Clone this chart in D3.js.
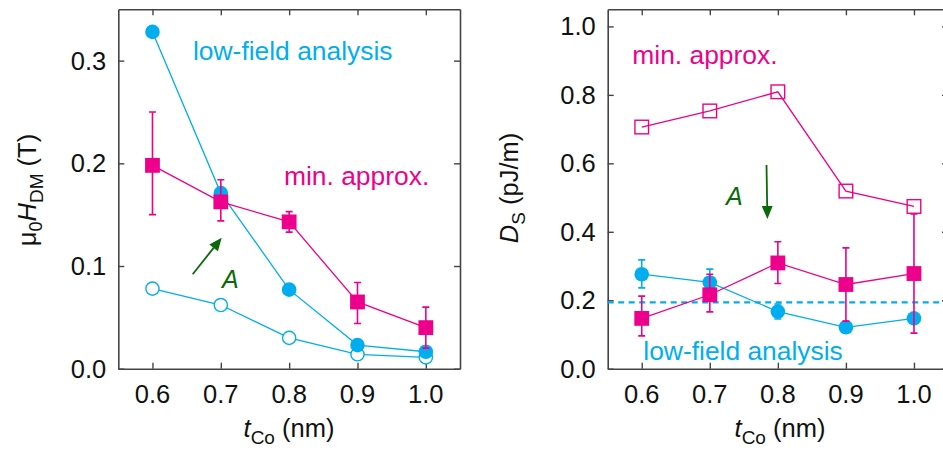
<!DOCTYPE html>
<html>
<head>
<meta charset="utf-8">
<script src="https://cdn.jsdelivr.net/npm/d3@7"></script>
<style>
  html, body { margin: 0; padding: 0; background: #fff; }
  svg { display: block; font-family: "Liberation Sans", Arial, sans-serif; }
</style>
</head>
<body>
<svg id="fig" width="943" height="452"></svg>
<script>
// Co thickness (nm)
const tCo = [0.6, 0.7, 0.8, 0.9, 1.0];
const xTicks = [0.6, 0.7, 0.8, 0.9, 1.0];

// Left panel: mu0 H_DM (T)
const hdmLowFieldFilled = [0.328, 0.171, 0.077, 0.023, 0.0165];
const hdmLowFieldOpen   = [0.078, 0.062, 0.030, 0.014, 0.011];
const hdmMinApprox      = [0.198, 0.1625, 0.143, 0.065, 0.040];
const hdmMinApproxLo    = [0.150, 0.144, 0.133, 0.044, 0.020];
const hdmMinApproxHi    = [0.250, 0.184, 0.153, 0.084, 0.060];
const hdmTicks = [0.0, 0.1, 0.2, 0.3];

// Right panel: D_S (pJ/m)
const dsMinApproxOpen = [0.706, 0.753, 0.809, 0.519, 0.474];
const dsMinApprox     = [0.147, 0.216, 0.309, 0.246, 0.278];
const dsMinApproxLo   = [0.096, 0.166, 0.249, 0.139, 0.104];
const dsMinApproxHi   = [0.212, 0.276, 0.371, 0.353, 0.452];
const dsLowField      = [0.276, 0.252, 0.167, 0.121, 0.147];
const dsLowFieldLo    = [0.236, 0.212, 0.145, 0.111, 0.137];
const dsLowFieldHi    = [0.318, 0.291, 0.189, 0.131, 0.157];
const dsLowFieldRef   = 0.194;
const dsTicks = [0.0, 0.2, 0.4, 0.6, 0.8, 1.0];

const CYAN = "#00aeef", MAGENTA = "#ec008c", GREEN = "#0a6a0a", FRAME = "#444";
const svg = d3.select("#fig");

const zip = (xs, ys) => xs.map((x, i) => [x, ys[i]]);

function panel(opt) {
  const x = d3.scaleLinear().domain([0.55, 1.05]).range([opt.x0, opt.x1]);
  const y = d3.scaleLinear().domain(opt.yDomain).range([368.7, 9.3]);
  const g = svg.append("g");

  // frame with inward ticks on all four sides
  const tick = 6;
  const axes = [
    [d3.axisBottom(x).tickValues(xTicks), `translate(0,${y.range()[0]})`, -tick],
    [d3.axisTop(x).tickValues(xTicks), `translate(0,${y.range()[1]})`, -tick],
    [d3.axisLeft(y).tickValues(opt.yTicks), `translate(${opt.x0},0)`, -tick],
    [d3.axisRight(y).tickValues(opt.yTicks), `translate(${opt.x1},0)`, -tick]
  ];
  axes.forEach(([ax, tr, len], i) => {
    const a = g.append("g").attr("transform", tr)
      .call(ax.tickSizeInner(len).tickSizeOuter(0).tickFormat(""));
    a.select(".domain").attr("stroke", FRAME).attr("stroke-width", 1.6);
    a.selectAll(".tick line").attr("stroke", FRAME).attr("stroke-width", 1.4);
  });

  // tick labels
  g.selectAll("text.xt").data(xTicks).join("text")
    .attr("x", d => x(d)).attr("y", 403)
    .attr("text-anchor", "middle").attr("font-size", 25.5).attr("fill", "#111")
    .text(d => d3.format(".1f")(d));
  g.selectAll("text.yt").data(opt.yTicks).join("text")
    .attr("x", opt.x0 - 12).attr("y", d => y(d) + 9)
    .attr("text-anchor", "end").attr("font-size", 25.5).attr("fill", "#111")
    .text(d => d3.format(".1f")(d));

  // x-axis title: t_Co (nm)
  const xt = g.append("text").attr("x", opt.xLabelX).attr("y", 437)
    .attr("text-anchor", "middle").attr("font-size", 25.5).attr("fill", "#111");
  xt.append("tspan").attr("font-style", "italic").text("t");
  xt.append("tspan").attr("font-size", 19).attr("dy", 7).text("Co");
  xt.append("tspan").attr("dy", -7).text(" (nm)");

  return { g, x, y };
}

function line(p, xs, ys, color) {
  p.g.append("path")
    .attr("d", d3.line().x(d => p.x(d[0])).y(d => p.y(d[1]))(zip(xs, ys)))
    .attr("fill", "none").attr("stroke", color).attr("stroke-width", 1.3);
}
function errorBars(p, xs, lo, hi, color) {
  const cap = 3.5;
  xs.forEach((t, i) => {
    const cx = p.x(t), y0 = p.y(lo[i]), y1 = p.y(hi[i]);
    const path = `M${cx},${y0}V${y1}M${cx - cap},${y0}H${cx + cap}M${cx - cap},${y1}H${cx + cap}`;
    p.g.append("path").attr("d", path).attr("fill", "none")
      .attr("stroke", color).attr("stroke-width", 1.6);
  });
}
function circles(p, xs, ys, color, filled) {
  p.g.selectAll(null).data(zip(xs, ys)).join("circle")
    .attr("cx", d => p.x(d[0])).attr("cy", d => p.y(d[1]))
    .attr("r", filled ? 7.3 : 6.6)
    .attr("fill", filled ? color : "#fff")
    .attr("stroke", color).attr("stroke-width", filled ? 0 : 1.4);
}
function squares(p, xs, ys, color, filled) {
  const s = filled ? 14.8 : 13.6;
  p.g.selectAll(null).data(zip(xs, ys)).join("rect")
    .attr("x", d => p.x(d[0]) - s / 2).attr("y", d => p.y(d[1]) - s / 2)
    .attr("width", s).attr("height", s)
    .attr("fill", filled ? color : "none")
    .attr("stroke", color).attr("stroke-width", filled ? 0 : 1.4);
}
function arrow(x1, y1, x2, y2) {
  const ang = Math.atan2(y2 - y1, x2 - x1), L = 13, W = 5.5;
  const bx = x2 - L * Math.cos(ang), by = y2 - L * Math.sin(ang);
  const nx = -Math.sin(ang), ny = Math.cos(ang);
  svg.append("line").attr("x1", x1).attr("y1", y1).attr("x2", bx).attr("y2", by)
    .attr("stroke", GREEN).attr("stroke-width", 1.8);
  svg.append("path")
    .attr("d", `M${x2},${y2}L${bx + nx * W},${by + ny * W}L${bx + ang * 0 - (x2 - bx) * 0.0},${by}L${bx - nx * W},${by - ny * W}Z`)
    .attr("fill", GREEN);
}
function label(x, y, txt, color, italic) {
  svg.append("text").attr("x", x).attr("y", y).attr("font-size", italic ? 25 : 26.4)
    .attr("fill", color).attr("font-style", italic ? "italic" : "normal").text(txt);
}

// ---------- left panel ----------
const L = panel({ x0: 118.3, x1: 460, yDomain: [0, 0.35], yTicks: hdmTicks, xLabelX: 289 });
line(L, tCo, hdmLowFieldOpen, CYAN);
circles(L, tCo, hdmLowFieldOpen, CYAN, false);
line(L, tCo, hdmLowFieldFilled, CYAN);
circles(L, tCo, hdmLowFieldFilled, CYAN, true);
line(L, tCo, hdmMinApprox, MAGENTA);
errorBars(L, tCo, hdmMinApproxLo, hdmMinApproxHi, MAGENTA);
squares(L, tCo, hdmMinApprox, MAGENTA, true);

// y-axis title: mu0 H_DM (T)
{
  const t = svg.append("text").attr("transform", "translate(36,190) rotate(-90)")
    .attr("text-anchor", "middle").attr("font-size", 25.5).attr("fill", "#111");
  t.append("tspan").text("\u03bc");
  t.append("tspan").attr("font-size", 18).attr("dy", 6).text("0");
  t.append("tspan").attr("dy", -6).attr("font-style", "italic").text("H");
  t.append("tspan").attr("font-size", 19).attr("dy", 7).text("DM");
  t.append("tspan").attr("dy", -7).text(" (T)");
}
label(193, 59.5, "low-field analysis", CYAN);
label(284, 184.5, "min. approx.", MAGENTA);
label(222, 287.5, "A", GREEN, true);
arrow(192.7, 274.3, 221.7, 237.7);

// ---------- right panel ----------
const R = panel({ x0: 607.7, x1: 948, yDomain: [0, 1.05], yTicks: dsTicks, xLabelX: 780 });
R.g.append("line")
  .attr("x1", R.x(0.55)).attr("x2", R.x(1.05))
  .attr("y1", R.y(dsLowFieldRef)).attr("y2", R.y(dsLowFieldRef))
  .attr("stroke", CYAN).attr("stroke-width", 2.2).attr("stroke-dasharray", "6,4.5");
line(R, tCo, dsLowField, CYAN);
errorBars(R, tCo, dsLowFieldLo, dsLowFieldHi, CYAN);
circles(R, tCo, dsLowField, CYAN, true);
line(R, tCo, dsMinApproxOpen, MAGENTA);
squares(R, tCo, dsMinApproxOpen, MAGENTA, false);
line(R, tCo, dsMinApprox, MAGENTA);
errorBars(R, tCo, dsMinApproxLo, dsMinApproxHi, MAGENTA);
squares(R, tCo, dsMinApprox, MAGENTA, true);

// y-axis title: D_S (pJ/m)
{
  const t = svg.append("text").attr("transform", "translate(518,188) rotate(-90)")
    .attr("text-anchor", "middle").attr("font-size", 25.5).attr("fill", "#111");
  t.append("tspan").attr("font-style", "italic").text("D");
  t.append("tspan").attr("font-size", 19).attr("dy", 7).text("S");
  t.append("tspan").attr("dy", -7).text(" (pJ/m)");
}
label(632.3, 63.5, "min. approx.", MAGENTA);
label(643.3, 359.5, "low-field analysis", CYAN);
label(726, 205, "A", GREEN, true);
arrow(766.5, 165, 767.4, 219);
</script>
</body>
</html>
